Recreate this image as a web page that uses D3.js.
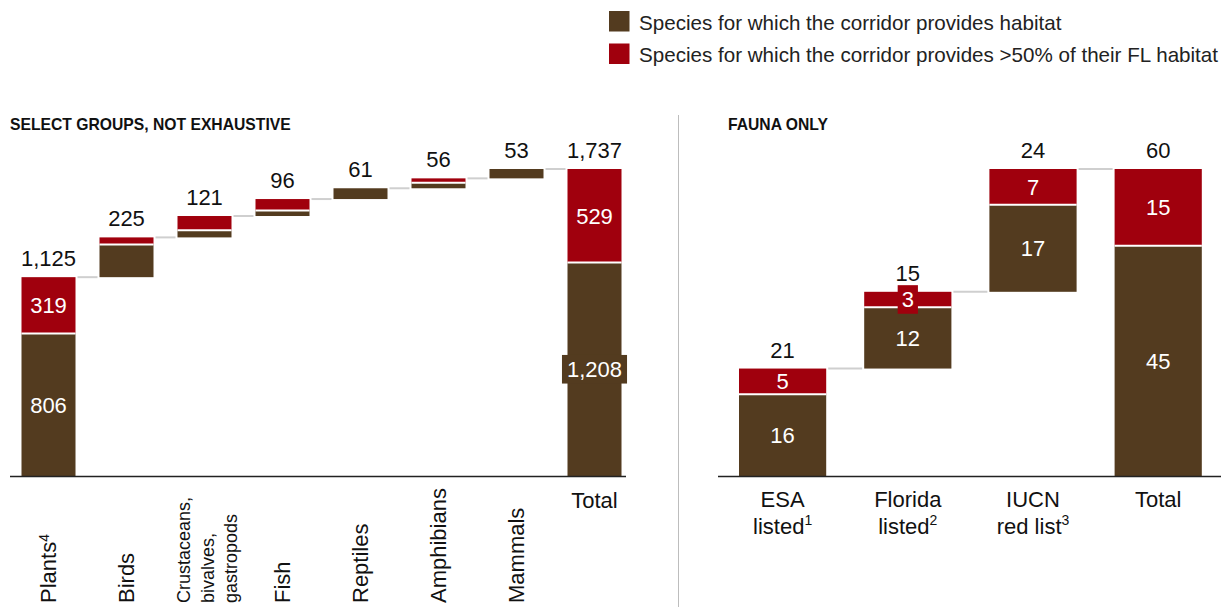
<!DOCTYPE html>
<html><head><meta charset="utf-8">
<script src="https://cdn.jsdelivr.net/npm/d3@7"></script>
<style>
html,body{margin:0;padding:0;background:#fff;}
svg{display:block;font-family:"Liberation Sans",Arial,sans-serif;}
</style></head>
<body>
<svg id="chart" width="1223" height="607"></svg>
<script>
// ---------- DATA ----------
const leftCategories = ["Plants", "Birds", "Crustaceans, bivalves, gastropods", "Fish", "Reptiles", "Amphibians", "Mammals", "Total"];
const leftLabelLines = [["Plants", "4"], ["Birds"], ["Crustaceans,", "bivalves,", "gastropods"], ["Fish"], ["Reptiles"], ["Amphibians"], ["Mammals"], ["Total"]];
const leftHabitat = [806, 185, 41, 31, 61, 31, 53, 1208];   // brown
const leftMajority = [319, 40, 80, 65, 0, 25, 0, 529];      // red (>50% of FL habitat)
const leftTotals = [1125, 225, 121, 96, 61, 56, 53, 1737];
const leftShowInside = [true, false, false, false, false, false, false, true];

const rightCategories = ["ESA listed", "Florida listed", "IUCN red list", "Total"];
const rightLabelLines = [["ESA", "listed", "1"], ["Florida", "listed", "2"], ["IUCN", "red list", "3"], ["Total"]];
const rightHabitat = [16, 12, 17, 45];
const rightMajority = [5, 3, 7, 15];
const rightTotals = [21, 15, 24, 60];

const legendLabels = ["Species for which the corridor provides habitat", "Species for which the corridor provides >50% of their FL habitat"];
const titles = ["SELECT GROUPS, NOT EXHAUSTIVE", "FAUNA ONLY"];

// ---------- STYLE ----------
const BROWN = "#533b1f", RED = "#a0000d", CONNECT = "#cfcfcf";
const svg = d3.select("#chart");

// legend
const lg = svg.append("g");
legendLabels.forEach((t, i) => {
  lg.append("rect").attr("x", 609).attr("y", 11 + i * 32.5).attr("width", 20.5).attr("height", 20.5)
    .attr("fill", i === 0 ? BROWN : RED);
  lg.append("text").attr("x", 639).attr("y", 29.5 + i * 32.5).attr("font-size", 20.6).attr("fill", "#222").text(t);
});

// separator
svg.append("line").attr("x1", 678.5).attr("x2", 678.5).attr("y1", 115).attr("y2", 607)
  .attr("stroke", "#bdbdbd").attr("stroke-width", 1);

// titles
svg.append("text").attr("x", 10).attr("y", 130).attr("font-size", 15.7).attr("font-weight", "bold")
  .attr("fill", "#111").text(titles[0]);
svg.append("text").attr("x", 728).attr("y", 130).attr("font-size", 15.7).attr("font-weight", "bold")
  .attr("fill", "#111").text(titles[1]);

function drawWaterfall(opts) {
  const {cats, hab, maj, tot, range, ymax, padInner, baseX, insideFlags, fontSize, boxPad} = opts;
  const x = d3.scaleBand().domain(cats).range(range).paddingInner(padInner).paddingOuter(0);
  const y = d3.scaleLinear().domain([0, ymax]).range([476, 169]);
  const g = svg.append("g");
  const bw = x.bandwidth();
  const n = cats.length;
  let cum = 0;
  const items = cats.map((c, i) => {
    const isTotal = i === n - 1;
    const base = isTotal ? 0 : cum;
    const end = base + hab[i] + maj[i];
    if (!isTotal) cum = end;
    return {c, i, base, mid: base + hab[i], end, isTotal};
  });
  // connectors
  items.forEach((d, i) => {
    if (i === n - 1) return;
    const yy = y(d.end);
    g.append("line").attr("x1", x(d.c) + bw + 2).attr("x2", x(items[i + 1].c) - 2)
      .attr("y1", yy).attr("y2", yy).attr("stroke", CONNECT).attr("stroke-width", 2);
  });
  // bars
  items.forEach(d => {
    const x0 = x(d.c);
    if (hab[d.i] > 0) g.append("rect").attr("x", x0).attr("width", bw)
      .attr("y", y(d.mid)).attr("height", y(d.base) - y(d.mid)).attr("fill", BROWN);
    if (maj[d.i] > 0) g.append("rect").attr("x", x0).attr("width", bw)
      .attr("y", y(d.end)).attr("height", y(d.mid) - y(d.end)).attr("fill", RED);
    if (maj[d.i] > 0 && hab[d.i] > 0) g.append("line").attr("x1", x0).attr("x2", x0 + bw)
      .attr("y1", y(d.mid)).attr("y2", y(d.mid)).attr("stroke", "#fff").attr("stroke-width", 2);
    // top label
    g.append("text").attr("x", x0 + bw / 2).attr("y", y(d.end) - 11).attr("text-anchor", "middle")
      .attr("font-size", fontSize).attr("fill", "#111").text(d3.format(",")(tot[d.i]));
    // inside labels
    if (insideFlags[d.i]) {
      [[d.base, d.mid, hab[d.i], BROWN], [d.mid, d.end, maj[d.i], RED]].forEach(([a, b, v, col]) => {
        if (v <= 0) return;
        const cy = (y(a) + y(b)) / 2;
        const segH = y(a) - y(b);
        const t = g.append("text").attr("x", x0 + bw / 2).attr("y", cy).attr("dy", "0.36em")
          .attr("text-anchor", "middle").attr("font-size", fontSize).attr("fill", "#fff")
          .text(d3.format(",")(v));
        const tw = t.node().getComputedTextLength();
        if (segH < 20 || tw + 2 * boxPad > bw) {
          const bh = fontSize * 1.3;
          g.insert("rect", () => t.node()).attr("x", x0 + bw / 2 - tw / 2 - boxPad).attr("width", tw + 2 * boxPad)
            .attr("y", cy - bh / 2).attr("height", bh).attr("fill", col);
        }
      });
    }
  });
  // baseline
  g.append("line").attr("x1", baseX[0]).attr("x2", baseX[1]).attr("y1", 476.5).attr("y2", 476.5)
    .attr("stroke", "#222").attr("stroke-width", 1.6);
  return {x, y, bw, g};
}

const L = drawWaterfall({cats: leftCategories, hab: leftHabitat, maj: leftMajority, tot: leftTotals,
  range: [21.5, 621.5], ymax: 1737, padInner: 24 / 78, baseX: [10, 626], insideFlags: leftShowInside,
  fontSize: 22, boxPad: 5});
const R = drawWaterfall({cats: rightCategories, hab: rightHabitat, maj: rightMajority, tot: rightTotals,
  range: [739, 1201.8], ymax: 60, padInner: 38 / 125.2, baseX: [718, 1221], insideFlags: [true, true, true, true],
  fontSize: 22, boxPad: 4});

// left axis labels (rotated)
leftCategories.forEach((c, i) => {
  const cx = L.x(c) + L.bw / 2;
  const lines = leftLabelLines[i];
  if (c === "Total") {
    L.g.append("text").attr("x", cx).attr("y", 508).attr("text-anchor", "middle")
      .attr("font-size", 22).attr("fill", "#111").text(lines[0]);
    return;
  }
  if (lines.length === 3) {
    const lh = 23.5;
    lines.forEach((ln, k) => {
      L.g.append("text").attr("transform", `translate(${cx + 3 + (k - 1) * lh},603) rotate(-90)`)
        .attr("dy", "0.36em").attr("font-size", 18).attr("fill", "#111").text(ln);
    });
    return;
  }
  const t = L.g.append("text").attr("transform", `translate(${cx},603) rotate(-90)`)
    .attr("font-size", 22).attr("fill", "#111");
  t.append("tspan").attr("dy", "0.36em").text(lines[0]);
  if (lines[1]) t.append("tspan").attr("font-size", 14).attr("dy", "-0.55em").text(lines[1]);
});

// right axis labels
rightCategories.forEach((c, i) => {
  const cx = R.x(c) + R.bw / 2;
  const lines = rightLabelLines[i];
  R.g.append("text").attr("x", cx).attr("y", 507).attr("text-anchor", "middle")
    .attr("font-size", 22).attr("fill", "#111").text(lines[0]);
  if (lines[1]) {
    const t = R.g.append("text").attr("x", cx).attr("y", 534).attr("text-anchor", "middle")
      .attr("font-size", 22).attr("fill", "#111");
    t.append("tspan").text(lines[1]);
    t.append("tspan").attr("font-size", 14).attr("dy", -9).text(lines[2]);
  }
});
</script>
</body></html>
